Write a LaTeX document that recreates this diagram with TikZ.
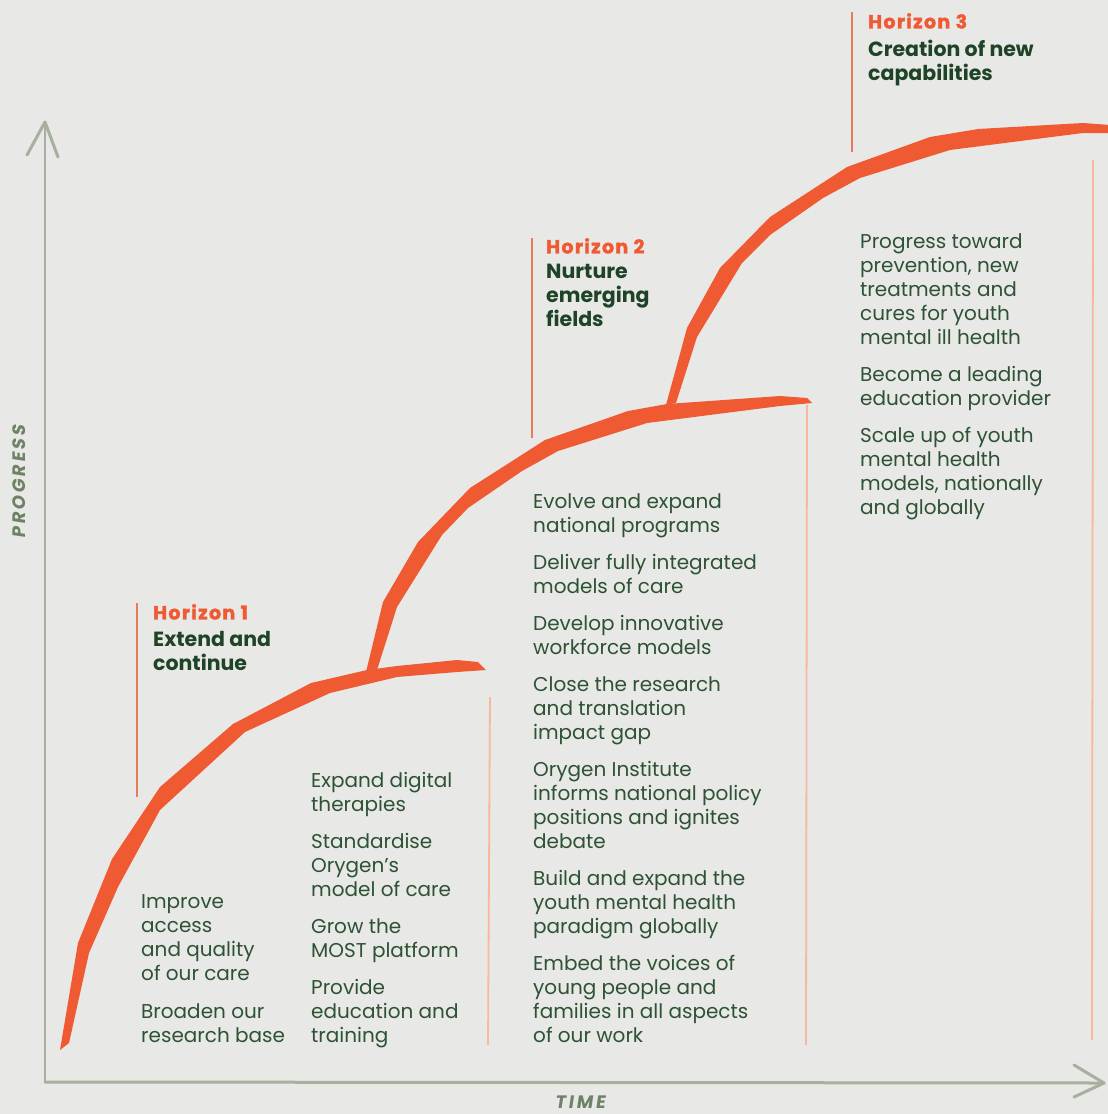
\documentclass[tikz,border=0pt]{standalone}
\usepackage{fontspec}
\setmainfont{Poppins}
\definecolor{bg}{HTML}{E8E8E6}
\definecolor{curve}{HTML}{F05A32}
\definecolor{axis}{HTML}{A6B09F}
\definecolor{axtext}{HTML}{6E8266}
\definecolor{body}{HTML}{2D5234}
\definecolor{dgreen}{HTML}{1F4326}
\definecolor{hline}{HTML}{E97A5C}
\definecolor{peach}{HTML}{F7B89E}
\tikzset{
  bodytext/.style={anchor=north west, inner sep=0pt, align=left, text=body, font=\fontsize{20}{24}\selectfont},
  horizon/.style={anchor=north west, inner sep=0pt, align=left, text=curve, font=\fontsize{19}{24}\selectfont\bfseries\addfontfeatures{LetterSpace=7,FakeBold=1.5}},
  subtitle/.style={anchor=north west, inner sep=0pt, align=left, text=dgreen, font=\fontsize{20.5}{24}\selectfont\bfseries},
  axlabel/.style={inner sep=0pt, text=axtext, font=\fontsize{18}{20}\selectfont\bfseries\addfontfeatures{LetterSpace=15,FakeSlant=0.15}},
  hmark/.style={draw=hline, line width=1.3pt},
  pmark/.style={draw=peach, line width=1.8pt},
  axisline/.style={draw=axis, line width=3pt, line cap=round, line join=round},
  band/.style={fill=curve}
}
\begin{document}
\begin{tikzpicture}[x=1pt,y=-1pt]
\fill[bg] (0,0) rectangle (1108,1114);
\useasboundingbox (0,0) rectangle (1108,1114);
% axes
\coordinate (o) at (45,1082);
\coordinate (ytop) at (45,122);
\coordinate (xend) at (1104,1083);
\draw[axisline, line width=2.5pt] (o) -- (ytop);
\draw[axisline] (o) -- (xend);
\draw[axisline] (27,155) -- (ytop) -- (58,157);
\draw[axisline] (1074,1065) -- (xend) -- (1074,1097);
\node[axlabel, rotate=90] (prog) at (19,482) {PROGRESS};
\node[axlabel] (time) at (580,1102) {TIME};
% marker lines
\draw[hmark] (137,603) -- (137,797);
\draw[hmark] (532,238) -- (532,438);
\draw[hmark] (852,12) -- (852,152);
\draw[pmark] (490,697) -- (488,1045);
\draw[pmark] (807,405) -- (806,1045);
\draw[pmark] (1093,160) -- (1092,1040);
% curves
\fill[band] (60,1050) -- (78,943) -- (112,859) -- (160,787) -- (233,724) -- (311,683) -- (367,670) -- (397,666) -- (457,660) -- (478,662) -- (486,670) -- (457,672) -- (397,677) -- (330,693) -- (245,732) -- (160,810) -- (118,887) -- (89,953) -- (69,1043) -- cycle;
\fill[band] (366,672) -- (383,602) -- (418,542) -- (470,488) -- (545,440) -- (628,411) -- (667,404) -- (780,396) -- (807,398) -- (812,403) -- (780,406) -- (647,423) -- (558,451) -- (522,471) -- (468,508) -- (442,535) -- (397,607) -- (377,670) -- cycle;
\fill[band] (666,405) -- (687,328) -- (720,268) -- (770,217) -- (847,167) -- (930,137) -- (978,129) -- (1083,123) -- (1110,125) -- (1110,133) -- (1083,133) -- (950,150) -- (860,178) -- (823,198) -- (770,235) -- (742,263) -- (697,337) -- (676,403) -- cycle;
% headings
\node[horizon] (h1) at (153,604) {Horizon 1};
\node[subtitle] (s1) at (153,631) {Extend and\\continue};
\node[horizon] (h2) at (546,238) {Horizon 2};
\node[subtitle] (s2) at (546,264) {Nurture\\emerging\\fields};
\node[horizon] (h3) at (868,13) {Horizon 3};
\node[subtitle] (s3) at (868,40) {Creation of new\\capabilities};
% column A
\node[bodytext] (a1) at (141,894) {Improve\\access\\and quality\\of our care};
\node[bodytext] (a2) at (141,1003) {Broaden our\\research base};
% column B
\node[bodytext] (b1) at (311,772) {Expand digital\\therapies};
\node[bodytext] (b2) at (311,833) {Standardise\\Orygen’s\\model of care};
\node[bodytext] (b3) at (311,918) {Grow the\\MOST platform};
\node[bodytext] (b4) at (311,979) {Provide\\education and\\training};
% column C
\node[bodytext] (c1) at (533,493) {Evolve and expand\\national programs};
\node[bodytext] (c2) at (533,554) {Deliver fully integrated\\models of care};
\node[bodytext] (c3) at (533,615) {Develop innovative\\workforce models};
\node[bodytext] (c4) at (533,676) {Close the research\\and translation\\impact gap};
\node[bodytext] (c5) at (533,761) {Orygen Institute\\informs national policy\\positions and ignites\\debate};
\node[bodytext] (c6) at (533,870) {Build and expand the\\youth mental health\\paradigm globally};
\node[bodytext] (c7) at (533,955) {Embed the voices of\\young people and\\families in all aspects\\of our work};
% column D
\node[bodytext] (d1) at (860,233) {Progress toward\\prevention, new\\treatments and\\cures for youth\\mental ill health};
\node[bodytext] (d2) at (860,366) {Become a leading\\education provider};
\node[bodytext] (d3) at (860,427) {Scale up of youth\\mental health\\models, nationally\\and globally};
\end{tikzpicture}
\end{document}
